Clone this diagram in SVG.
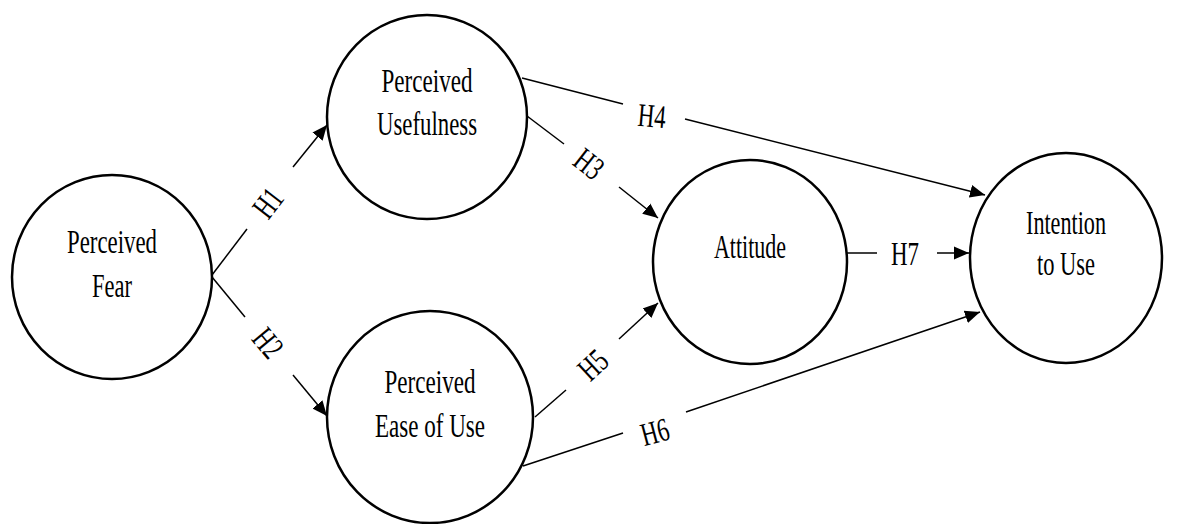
<svg xmlns="http://www.w3.org/2000/svg" width="1180" height="524" viewBox="0 0 1180 524">
<style>
.node{fill:#fff;stroke:#000;stroke-width:2.5}
.lbl{font-family:"Liberation Serif","Times New Roman",serif;font-size:33px;fill:#000;text-anchor:middle}
.edge{stroke:#000;stroke-width:1.5;fill:none}
</style>
<defs>
<marker id="arr" markerUnits="userSpaceOnUse" markerWidth="16" markerHeight="16" viewBox="0 0 16 16" refX="15" refY="8" orient="auto">
<path d="M0,1.5 L15,8 L0,14.5 Z" fill="#000"/>
</marker>
</defs>
<rect width="1180" height="524" fill="#fff"/>
<g id="connectors">
<line class="edge" x1="212" y1="275" x2="247" y2="229"/>
<line class="edge" x1="293" y1="167" x2="327" y2="125" marker-end="url(#arr)"/>
<line class="edge" x1="212" y1="277" x2="245" y2="317"/>
<line class="edge" x1="293" y1="375" x2="327" y2="416" marker-end="url(#arr)"/>
<line class="edge" x1="527" y1="116" x2="564" y2="144"/>
<line class="edge" x1="619" y1="187" x2="658" y2="218" marker-end="url(#arr)"/>
<line class="edge" x1="522" y1="78" x2="623" y2="104"/>
<line class="edge" x1="685" y1="119" x2="985" y2="195" marker-end="url(#arr)"/>
<line class="edge" x1="535" y1="417" x2="566" y2="390"/>
<line class="edge" x1="619" y1="339" x2="658" y2="303" marker-end="url(#arr)"/>
<line class="edge" x1="523" y1="466" x2="623" y2="433"/>
<line class="edge" x1="686" y1="412" x2="980" y2="312" marker-end="url(#arr)"/>
<line class="edge" x1="846" y1="253" x2="877" y2="253"/>
<line class="edge" x1="937" y1="253" x2="969" y2="253" marker-end="url(#arr)"/>
<text class="lbl" transform="translate(268,203) rotate(-52.5)" x="0" y="11" textLength="28" lengthAdjust="spacingAndGlyphs">H1</text>
<text class="lbl" transform="translate(268,343) rotate(50.4)" x="0" y="11" textLength="28" lengthAdjust="spacingAndGlyphs">H2</text>
<text class="lbl" transform="translate(589,164) rotate(37.9)" x="0" y="11" textLength="28" lengthAdjust="spacingAndGlyphs">H3</text>
<text class="lbl" transform="translate(652,116) rotate(5)" x="0" y="11" textLength="28" lengthAdjust="spacingAndGlyphs">H4</text>
<text class="lbl" transform="translate(593,365) rotate(-42.8)" x="0" y="11" textLength="28" lengthAdjust="spacingAndGlyphs">H5</text>
<text class="lbl" transform="translate(655,432) rotate(-15)" x="0" y="11" textLength="28" lengthAdjust="spacingAndGlyphs">H6</text>
<text class="lbl" x="905" y="265" textLength="28" lengthAdjust="spacingAndGlyphs">H7</text>
</g>
<g id="perceived-fear">
<ellipse class="node" cx="112" cy="277" rx="100" ry="102"/>
<text class="lbl" x="112" y="253" textLength="90" lengthAdjust="spacingAndGlyphs">Perceived</text>
<text class="lbl" x="112" y="297" textLength="40" lengthAdjust="spacingAndGlyphs">Fear</text>
</g>
<g id="perceived-usefulness">
<ellipse class="node" cx="427" cy="117" rx="100" ry="102"/>
<text class="lbl" x="427" y="92" textLength="91" lengthAdjust="spacingAndGlyphs">Perceived</text>
<text class="lbl" x="427" y="135" textLength="100" lengthAdjust="spacingAndGlyphs">Usefulness</text>
</g>
<g id="perceived-ease-of-use">
<ellipse class="node" cx="430" cy="417" rx="103" ry="106"/>
<text class="lbl" x="430" y="393" textLength="91" lengthAdjust="spacingAndGlyphs">Perceived</text>
<text class="lbl" x="430" y="437" textLength="110" lengthAdjust="spacingAndGlyphs">Ease of Use</text>
</g>
<g id="attitude">
<ellipse class="node" cx="750" cy="262" rx="97" ry="102"/>
<text class="lbl" x="750" y="258" textLength="72" lengthAdjust="spacingAndGlyphs">Attitude</text>
</g>
<g id="intention-to-use">
<ellipse class="node" cx="1066" cy="258" rx="96" ry="105"/>
<text class="lbl" x="1066" y="234" textLength="80" lengthAdjust="spacingAndGlyphs">Intention</text>
<text class="lbl" x="1066" y="275" textLength="58" lengthAdjust="spacingAndGlyphs">to Use</text>
</g>
</svg>
